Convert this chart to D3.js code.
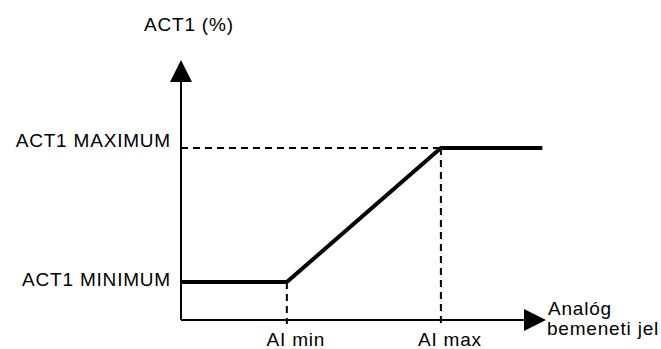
<!DOCTYPE html>
<html>
<head>
<meta charset="utf-8">
<script src="https://cdn.jsdelivr.net/npm/d3@7"></script>
<style>
  body { margin: 0; background: #fff; }
  text { font-family: "Liberation Sans", Arial, sans-serif; font-size: 19px; letter-spacing: 0.8px; fill: #000; }
</style>
</head>
<body>
<div id="chart"></div>
<script>
// input signal positions (0-100 along the x axis)
const xLabels = ["AI min", "AI max"];
const xValues = [29, 71.2];
// output levels (0-100 along the y axis)
const yLabels = ["ACT1 MINIMUM", "ACT1 MAXIMUM"];
const yValues = [14.6, 66.2];
// the response curve
const curveX = [0, 29, 71.2, 99];
const curveY = [14.6, 14.6, 66.2, 66.2];

const width = 661;
const height = 349;
const origin = { x: 181, y: 320 };

const svg = d3
  .select("#chart")
  .append("svg")
  .attr("width", width)
  .attr("height", height);

const x = d3.scaleLinear().domain([0, 100]).range([origin.x, 546]);
const y = d3.scaleLinear().domain([0, 100]).range([origin.y, 60]);

// dashed guide lines
const dash = "7,5";
svg
  .append("line")
  .attr("x1", x(0))
  .attr("x2", x(xValues[1]))
  .attr("y1", y(yValues[1]))
  .attr("y2", y(yValues[1]))
  .attr("stroke", "#000")
  .attr("stroke-width", 2)
  .attr("stroke-dasharray", dash);

svg
  .selectAll(".vguide")
  .data(xValues)
  .enter()
  .append("line")
  .attr("class", "vguide")
  .attr("x1", (d) => x(d))
  .attr("x2", (d) => x(d))
  .attr("y1", (d, i) => y(yValues[i]))
  .attr("y2", origin.y + 4)
  .attr("stroke", "#000")
  .attr("stroke-width", 2)
  .attr("stroke-dasharray", dash);

// axes with arrow heads
svg
  .append("line")
  .attr("x1", origin.x)
  .attr("x2", origin.x)
  .attr("y1", origin.y)
  .attr("y2", y(100) + 20)
  .attr("stroke", "#000")
  .attr("stroke-width", 2);
svg
  .append("path")
  .attr("d", `M${origin.x},${y(100)} L${origin.x - 11},${y(100) + 22} L${origin.x + 11},${y(100) + 22} Z`)
  .attr("fill", "#000");

svg
  .append("line")
  .attr("x1", origin.x)
  .attr("x2", x(100) - 20)
  .attr("y1", origin.y)
  .attr("y2", origin.y)
  .attr("stroke", "#000")
  .attr("stroke-width", 2);
svg
  .append("path")
  .attr("d", `M${x(100)},${origin.y} L${x(100) - 22},${origin.y - 11} L${x(100) - 22},${origin.y + 11} Z`)
  .attr("fill", "#000");

// response curve
const line = d3
  .line()
  .x((d) => x(d[0]))
  .y((d) => y(d[1]));
svg
  .append("path")
  .datum(d3.zip(curveX, curveY))
  .attr("d", line)
  .attr("fill", "none")
  .attr("stroke", "#000")
  .attr("stroke-width", 4)
  .attr("stroke-linejoin", "miter");

// labels
svg
  .selectAll(".ylab")
  .data(yLabels)
  .enter()
  .append("text")
  .attr("class", "ylab")
  .attr("x", 171)
  .attr("y", (d, i) => y(yValues[i]) + (i === 0 ? 4 : -1))
  .attr("text-anchor", "end")
  .text((d) => d);

svg
  .selectAll(".xlab")
  .data(xLabels)
  .enter()
  .append("text")
  .attr("class", "xlab")
  .attr("x", (d, i) => x(xValues[i]) + 9)
  .attr("y", 346)
  .attr("text-anchor", "middle")
  .text((d) => d);

svg.append("text").attr("x", 144).attr("y", 31).text("ACT1 (%)");
svg.append("text").attr("x", 548).attr("y", 315).text("Analóg");
svg.append("text").attr("x", 547).attr("y", 335).text("bemeneti jel");
</script>
</body>
</html>
